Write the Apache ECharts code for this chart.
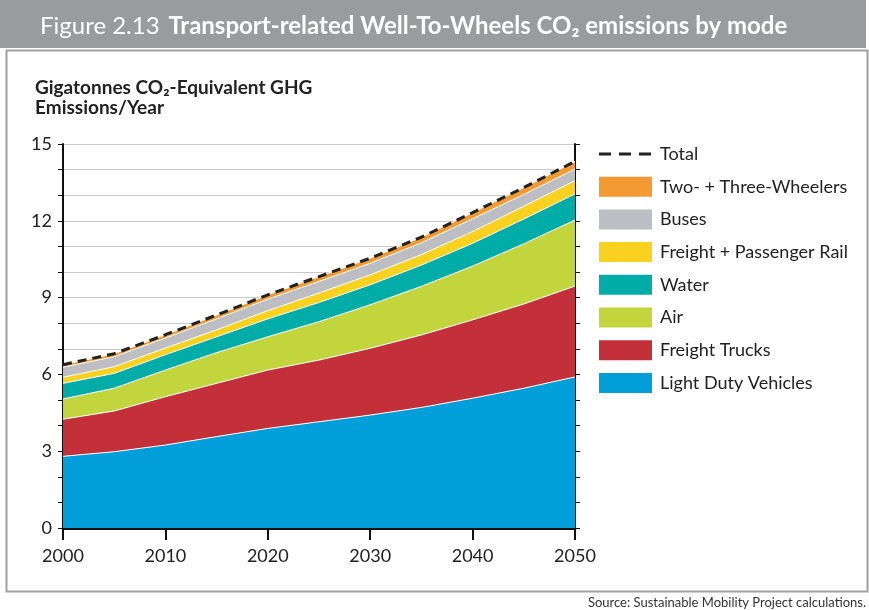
<!DOCTYPE html>
<html>
<head>
<meta charset="utf-8">
<script src="https://cdn.jsdelivr.net/npm/echarts@6/dist/echarts.min.js"></script>
<style>
  html, body { margin: 0; padding: 0; background: #fff; }
  #chart { width: 869px; height: 610px; }
</style>
</head>
<body>
<div id="chart"></div>
<script>
// years on the x axis (5-year steps)
var years = ["2000", "2005", "2010", "2015", "2020", "2025", "2030", "2035", "2040", "2045", "2050"];

// Gt CO2-eq per year
var lightDuty   = [2.8, 2.98, 3.24, 3.57, 3.89, 4.15, 4.41, 4.71, 5.07, 5.46, 5.9];
var trucks      = [1.45, 1.59, 1.89, 2.08, 2.28, 2.41, 2.61, 2.83, 3.06, 3.29, 3.55];
var air         = [0.79, 0.89, 1.04, 1.2, 1.3, 1.5, 1.7, 1.9, 2.1, 2.35, 2.58];
var water       = [0.61, 0.58, 0.6, 0.62, 0.7, 0.75, 0.78, 0.83, 0.89, 0.97, 1.02];
var rail        = [0.24, 0.26, 0.26, 0.27, 0.32, 0.37, 0.39, 0.41, 0.46, 0.5, 0.52];
var buses       = [0.39, 0.39, 0.39, 0.43, 0.45, 0.45, 0.45, 0.46, 0.5, 0.46, 0.45];
var twoThree    = [0.1, 0.12, 0.13, 0.15, 0.17, 0.19, 0.2, 0.22, 0.24, 0.27, 0.3];
var total       = [6.38, 6.81, 7.55, 8.32, 9.11, 9.82, 10.54, 11.36, 12.32, 13.3, 14.32];

var FONT = "Lato";

// three dashes, padded to the full icon box so the legend keeps them thin
var DASH_ICON = "path://M0,0h0.01v0.01h-0.01z M0,8.5h12v3h-12z M20,8.5h12v3h-12z M40,8.5h12v3h-12z M52.99,19.99h0.01v0.01h-0.01z";

var legendData = [
  { name: "Total", icon: DASH_ICON },
  { name: "Two- + Three-Wheelers", icon: "rect" },
  { name: "Buses", icon: "rect" },
  { name: "Freight + Passenger Rail", icon: "rect" },
  { name: "Water", icon: "rect" },
  { name: "Air", icon: "rect" },
  { name: "Freight Trucks", icon: "rect" },
  { name: "Light Duty Vehicles", icon: "rect" }
];

function areaSeries(name, arr, color) {
  return {
    name: name,
    type: "line",
    stack: "all",
    symbol: "none",
    data: arr,
    itemStyle: { color: color },
    lineStyle: { color: "#ffffff", width: 1 },
    areaStyle: { color: color, opacity: 1 },
    z: 2
  };
}

var chart = echarts.init(document.getElementById("chart"));
chart.setOption({
  animation: false,
  backgroundColor: "#fff",
  textStyle: { fontFamily: FONT },
  title: {
    left: 35,
    top: 9,
    text: "{a|Figure 2.13}  {b|Transport-related Well-To-Wheels CO₂ emissions by mode}",
    textStyle: {
      rich: {
        a: { fontFamily: FONT, fontSize: 24, color: "#fff", fontWeight: "normal" },
        b: { fontFamily: FONT, fontSize: 24, color: "#fff", fontWeight: "bold" }
      }
    }
  },
  graphic: [
    // title bar
    { type: "rect", left: 0, top: 0, z: -1,
      shape: { width: 866, height: 48 }, style: { fill: "#9a9b9d" } },
    // frame
    { type: "rect", left: 4, top: 48, z: -1,
      shape: { width: 861, height: 541 },
      style: { fill: "none", stroke: "#a0a0a0", lineWidth: 2 } },
    // y axis caption
    { type: "text", left: 35, top: 78,
      style: { text: "Gigatonnes CO₂-Equivalent GHG\nEmissions/Year", fontFamily: FONT,
               fontSize: 19, fontWeight: "bold", fill: "#222", lineHeight: 20 } },
    // source line
    { type: "text", right: 3, top: 596,
      style: { text: "Source: Sustainable Mobility Project calculations.", fontFamily: FONT,
               fontSize: 13, fill: "#333" } }
  ],
  grid: { left: 63, right: 294, top: 144, bottom: 82 },
  legend: {
    data: legendData,
    orient: "vertical",
    left: 594,
    top: 139,
    itemWidth: 53,
    itemHeight: 20,
    itemGap: 12.7,
    textStyle: { fontFamily: FONT, fontSize: 18, color: "#222", padding: [0, 0, 0, 3] }
  },
  xAxis: {
    type: "category",
    data: years,
    boundaryGap: false,
    axisLine: { show: true, lineStyle: { color: "#111", width: 3 } },
    axisTick: {
      show: true, length: 12,
      interval: function (i) { return i % 2 === 0; },
      lineStyle: { color: "#111", width: 2 }
    },
    axisLabel: { interval: 1, fontFamily: FONT, fontSize: 18, color: "#222", margin: 19 },
    splitLine: { show: false }
  },
  yAxis: [
    {
      type: "value",
      min: 0,
      max: 15,
      interval: 3,
      axisLine: { show: true, lineStyle: { color: "#111", width: 2 } },
      axisTick: { show: true, length: 5, lineStyle: { color: "#111", width: 1 } },
      minorTick: { show: true, splitNumber: 3, length: 5, lineStyle: { color: "#111", width: 1 } },
      axisLabel: { fontFamily: FONT, fontSize: 18, color: "#222", margin: 11 },
      splitLine: { show: true, lineStyle: { color: "#c8cace", width: 1 } },
      minorSplitLine: { show: true, lineStyle: { color: "#c8cace", width: 1 } }
    },
    {
      type: "value",
      position: "right",
      min: 0,
      max: 15,
      interval: 1,
      axisLine: { show: true, lineStyle: { color: "#111", width: 2 } },
      axisTick: { show: true, length: 5, lineStyle: { color: "#111", width: 1 } },
      axisLabel: { show: false },
      splitLine: { show: false }
    }
  ],
  series: [
    areaSeries("Light Duty Vehicles", lightDuty, "#009fda"),
    areaSeries("Freight Trucks", trucks, "#c4303a"),
    areaSeries("Air", air, "#c2d53c"),
    areaSeries("Water", water, "#00aca8"),
    areaSeries("Freight + Passenger Rail", rail, "#f8d21f"),
    areaSeries("Buses", buses, "#bcbec4"),
    areaSeries("Two- + Three-Wheelers", twoThree, "#f39a33"),
    {
      name: "Total",
      type: "line",
      symbol: "none",
      data: total,
      itemStyle: { color: "#222" },
      lineStyle: { color: "#222", width: 3, type: [9, 6] },
      z: 5
    }
  ]
});
</script>
</body>
</html>
